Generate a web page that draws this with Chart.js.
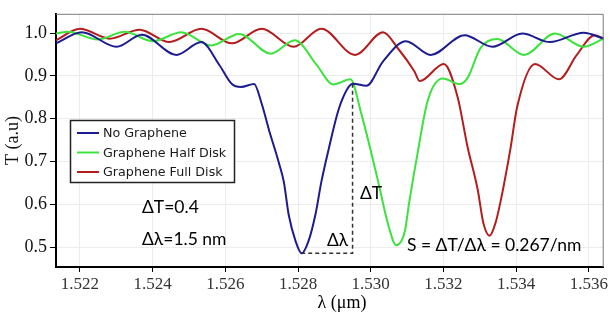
<!DOCTYPE html>
<html>
<head>
<meta charset="utf-8">
<script src="https://cdn.jsdelivr.net/npm/chart.js@4.4.1/dist/chart.umd.min.js"></script>
<style>
  html, body { margin: 0; padding: 0; background: #fff; }
  #wrap { width: 610px; height: 321px; }
</style>
</head>
<body>
<div id="wrap"><canvas id="chart"></canvas></div>
<script>
// wavelength (um) and transmission values
var noGrapheneX = [1.52134, 1.52205, 1.52301, 1.52370, 1.52465, 1.52534, 1.52583, 1.52618, 1.52643, 1.52679, 1.52700, 1.52720, 1.52747, 1.52761, 1.52774, 1.52793, 1.52810, 1.52829, 1.52848, 1.52864, 1.52884, 1.52911, 1.52938, 1.52952, 1.52988, 1.53034, 1.53097, 1.53165, 1.53258, 1.53335, 1.53417, 1.53493, 1.53586, 1.53641];
var noGrapheneT = [0.976, 1.002, 0.968, 0.996, 0.949, 0.979, 0.926, 0.881, 0.874, 0.881, 0.835, 0.774, 0.698, 0.652, 0.577, 0.515, 0.486, 0.515, 0.577, 0.652, 0.728, 0.820, 0.873, 0.882, 0.877, 0.934, 0.981, 0.949, 0.995, 0.968, 0.999, 0.979, 1.001, 0.987];

var halfDiskX = [1.52134, 1.52167, 1.52249, 1.52323, 1.52400, 1.52479, 1.52561, 1.52638, 1.52725, 1.52791, 1.52851, 1.52897, 1.52944, 1.52974, 1.53020, 1.53048, 1.53070, 1.53094, 1.53105, 1.53130, 1.53157, 1.53198, 1.53245, 1.53267, 1.53302, 1.53348, 1.53422, 1.53507, 1.53586, 1.53641];
var halfDiskT = [0.999, 1.003, 0.985, 1.003, 0.981, 1.002, 0.971, 0.998, 0.952, 0.983, 0.926, 0.880, 0.892, 0.812, 0.655, 0.553, 0.505, 0.538, 0.600, 0.725, 0.843, 0.894, 0.881, 0.896, 0.965, 0.986, 0.949, 0.999, 0.968, 0.987];

var fullDiskX = [1.52134, 1.52200, 1.52282, 1.52364, 1.52446, 1.52534, 1.52618, 1.52700, 1.52788, 1.52864, 1.52957, 1.53034, 1.53075, 1.53120, 1.53135, 1.53201, 1.53239, 1.53266, 1.53294, 1.53310, 1.53327, 1.53343, 1.53357, 1.53384, 1.53403, 1.53452, 1.53518, 1.53567, 1.53616, 1.53641];
var fullDiskT = [0.983, 1.010, 0.987, 1.008, 0.979, 1.010, 0.976, 1.010, 0.968, 1.010, 0.949, 1.002, 0.964, 0.911, 0.888, 0.928, 0.851, 0.736, 0.636, 0.556, 0.527, 0.556, 0.606, 0.728, 0.828, 0.928, 0.892, 0.949, 0.995, 0.987];

var seriesNames = ["No Graphene", "Graphene Half Disk", "Graphene Full Disk"];
var xTicks = [1.522, 1.524, 1.526, 1.528, 1.530, 1.532, 1.534, 1.536];
var yTicks = [0.5, 0.6, 0.7, 0.8, 0.9, 1.0];

// sensitivity marker (dashed lines)
var dipLambda = 1.52810, shoulderLambda = 1.52950;
var dipT = 0.486, shoulderT = 0.882;

function toPoints(xs, ys) {
  return xs.map(function (x, i) { return { x: x, y: ys[i] }; });
}

var colors = ["#1c1c8f", "#3ee23e", "#b31d1d"];

var annotations = {
  id: "annotations",
  afterDatasetsDraw: function (chart) {
    var ctx = chart.ctx;
    var xs = chart.scales.x, ys = chart.scales.y;
    var area = chart.chartArea;

    // top / right frame
    ctx.save();
    ctx.strokeStyle = "#7a7a7a";
    ctx.lineWidth = 1;
    ctx.beginPath();
    ctx.moveTo(area.left, area.top + 0.5);
    ctx.lineTo(area.right - 0.5, area.top + 0.5);
    ctx.lineTo(area.right - 0.5, area.bottom);
    ctx.stroke();

    // dashed delta lines
    ctx.strokeStyle = "#333";
    ctx.lineWidth = 1.5;
    ctx.setLineDash([4, 3]);
    ctx.beginPath();
    ctx.moveTo(xs.getPixelForValue(shoulderLambda), ys.getPixelForValue(shoulderT));
    ctx.lineTo(xs.getPixelForValue(shoulderLambda), ys.getPixelForValue(dipT));
    ctx.lineTo(xs.getPixelForValue(dipLambda), ys.getPixelForValue(dipT));
    ctx.stroke();
    ctx.setLineDash([]);

    // texts
    ctx.fillStyle = "#000";
    ctx.font = "17.5px Lato";
    ctx.textBaseline = "middle";
    ctx.textAlign = "left";
    ctx.fillText("\u0394T=0.4", 142, 207);
    ctx.fillText("\u0394\u03bb=1.5 nm", 142, 239);
    ctx.fillText("\u0394T", 360, 193);
    ctx.fillText("\u0394\u03bb", 327, 240);
    ctx.fillText("S = \u0394T/\u0394\u03bb = 0.267/nm", 407, 245);

    // x axis title
    ctx.font = "18px 'Liberation Serif'";
    ctx.textAlign = "center";
    ctx.fillText("\u03bb (\u03bcm)", 342, 303);

    // legend box
    ctx.fillStyle = "#fff";
    ctx.fillRect(70, 120, 165, 63);
    ctx.strokeStyle = "#222";
    ctx.lineWidth = 1.5;
    ctx.strokeRect(70.5, 120.5, 164, 62);
    ctx.font = "12.7px 'DejaVu Sans'";
    ctx.textAlign = "left";
    chart.data.datasets.forEach(function (ds, i) {
      var y = 133 + i * 19.5;
      ctx.strokeStyle = ds.borderColor;
      ctx.lineWidth = 2;
      ctx.beginPath();
      ctx.moveTo(77, y);
      ctx.lineTo(99, y);
      ctx.stroke();
      ctx.fillStyle = "#1a1a1a";
      ctx.fillText(ds.label, 103, y + 1);
    });
    ctx.restore();
  }
};

new Chart(document.getElementById("chart"), {
  type: "line",
  data: {
    datasets: [
      { label: seriesNames[0], data: toPoints(noGrapheneX, noGrapheneT), borderColor: colors[0] },
      { label: seriesNames[1], data: toPoints(halfDiskX, halfDiskT), borderColor: colors[1] },
      { label: seriesNames[2], data: toPoints(fullDiskX, fullDiskT), borderColor: colors[2] },
    ],
  },
  options: {
    responsive: true,
    maintainAspectRatio: false,
    animation: false,
    layout: { padding: { top: 8, right: 3, left: 0, bottom: 0 } },
    elements: {
      point: { radius: 0 },
      line: { borderWidth: 2, cubicInterpolationMode: "monotone" },
    },
    plugins: {
      legend: { display: false },
      tooltip: { enabled: false },
    },
    scales: {
      x: {
        type: "linear",
        min: 1.52134,
        max: 1.53641,
        afterBuildTicks: function (scale) {
          scale.ticks = xTicks.map(function (v) { return { value: v }; });
        },
        afterFit: function (scale) { scale.height = 54; },
        grid: { color: "#ececec", tickColor: "#000", tickLength: 5 },
        border: { color: "#000", width: 2 },
        ticks: {
          padding: 2,
          maxRotation: 0,
          color: "#333",
          font: { family: "Liberation Serif", size: 17 },
          callback: function (v) { return v.toFixed(3); },
        },
      },
      y: {
        min: 0.454,
        max: 1.045,
        afterBuildTicks: function (scale) {
          scale.ticks = yTicks.map(function (v) { return { value: v }; });
        },
        afterFit: function (scale) { scale.width = 56; },
        grid: { color: "#ececec", tickColor: "#000", tickLength: 6 },
        border: { color: "#000", width: 2 },
        ticks: {
          padding: 3,
          color: "#111",
          font: { family: "Liberation Serif", size: 18 },
          callback: function (v) { return v.toFixed(1); },
        },
        title: {
          display: true,
          text: "T (a.u)",
          color: "#111",
          font: { family: "Liberation Serif", size: 18 },
          padding: { top: 2, bottom: 0 },
        },
      },
    },
  },
  plugins: [annotations],
});
</script>
</body>
</html>
